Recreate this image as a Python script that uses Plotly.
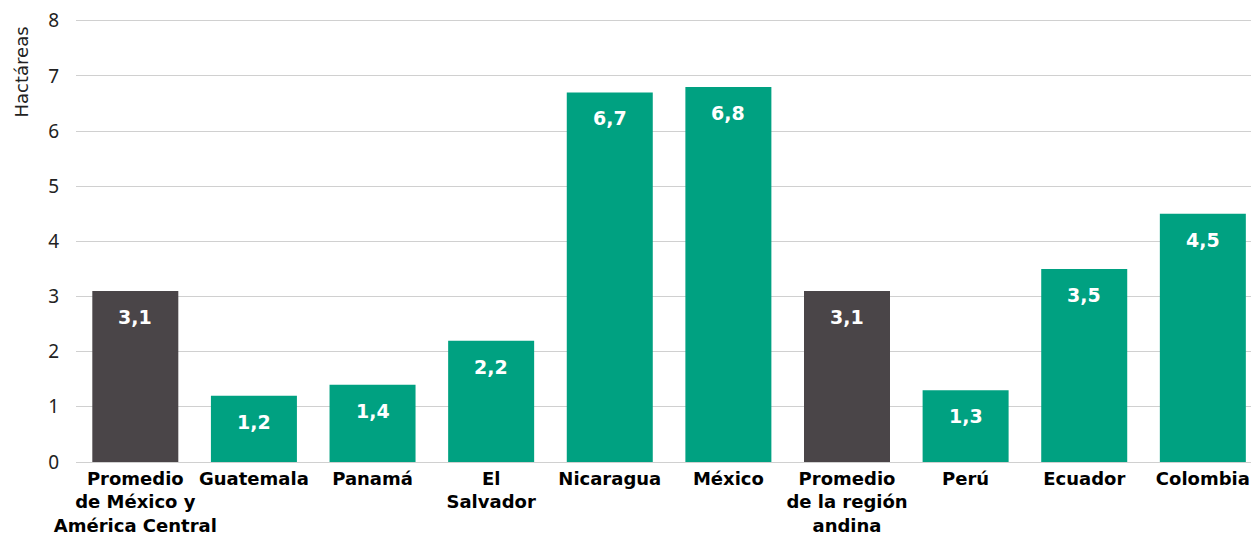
import plotly.graph_objects as go

categories = ["Promedio<br>de México y<br>América Central", "Guatemala", "Panamá", "El<br>Salvador",
              "Nicaragua", "México", "Promedio<br>de la región<br>andina", "Perú", "Ecuador", "Colombia"]
values = [3.1, 1.2, 1.4, 2.2, 6.7, 6.8, 3.1, 1.3, 3.5, 4.5]
is_average = [True, False, False, False, False, False, True, False, False, False]
y_ticks = [0, 1, 2, 3, 4, 5, 6, 7, 8]
y_title = "Hactáreas"

DARK = "#4a4548"
GREEN = "#00a181"
colors = [DARK if a else GREEN for a in is_average]
labels = [f"{v:.1f}".replace(".", ",") for v in values]

fig = go.Figure()
fig.add_trace(go.Bar(
    x=list(range(len(categories))), y=values,
    marker=dict(color=colors, line=dict(width=0)),
    width=0.725,
    hoverinfo="skip",
))

for i, (v, t) in enumerate(zip(values, labels)):
    fig.add_annotation(x=i, y=v, text=f"<b>{t}</b>", showarrow=False,
                       yanchor="top", yshift=-13,
                       font=dict(family="DejaVu Sans", size=19, color="white"))

fig.add_annotation(xref="paper", yref="paper", x=-0.046, y=1.0, xanchor="center", yanchor="top",
                   yshift=-6, text=y_title, textangle=-90, showarrow=False,
                   font=dict(family="DejaVu Sans", size=18, color="#222222"))

fig.update_layout(
    width=1251, height=539,
    margin=dict(l=76, r=0, t=18, b=77),
    paper_bgcolor="white", plot_bgcolor="white",
    showlegend=False,
    font=dict(family="Noto Sans", color="#000000"),
    xaxis=dict(
        range=[-0.5, 9.406],
        tickmode="array",
        tickvals=list(range(len(categories))),
        ticktext=[f"<b>{c}</b>" for c in categories],
        tickfont=dict(family="DejaVu Sans", size=18, color="#000000"),
        tickangle=0, automargin=False,
        ticklabelstandoff=4,
        showgrid=False, zeroline=False, showline=False, ticks="",
    ),
    yaxis=dict(
        range=[0, 8.05],
        tickmode="array", tickvals=y_ticks,
        ticktext=[str(t) for t in y_ticks],
        tickfont=dict(family="Noto Sans", size=19, color="#222222"),
        showgrid=True, gridcolor="#d0d0d0", gridwidth=1,
        zeroline=True, zerolinecolor="#d0d0d0", zerolinewidth=1,
        ticks="outside", ticklen=12, tickcolor="rgba(0,0,0,0)",
        automargin=False,
    ),
)

fig.write_html("out.html")
